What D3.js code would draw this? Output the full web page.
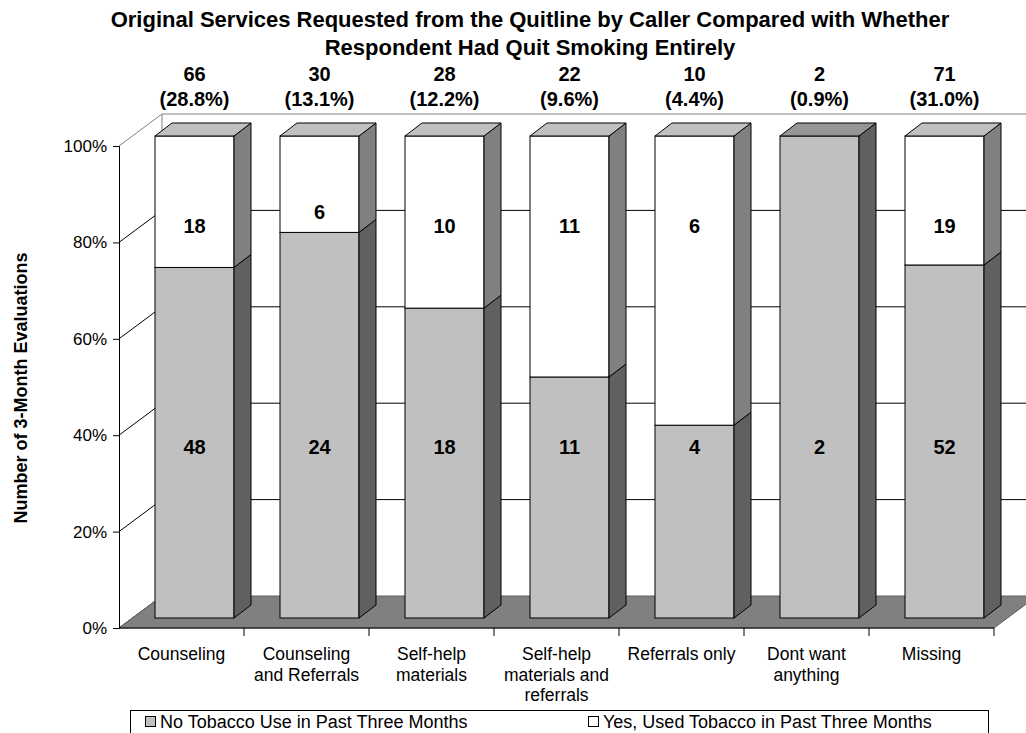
<!DOCTYPE html>
<html>
<head>
<meta charset="utf-8">
<script src="https://cdn.jsdelivr.net/npm/d3@7/dist/d3.min.js"></script>
<style>
  html, body { margin: 0; padding: 0; background: #fff; }
  svg { display: block; font-family: "Liberation Sans", Arial, sans-serif; }
</style>
</head>
<body>
<svg id="chart" width="1026" height="733"></svg>
<script>
// Services requested, split by tobacco use at the 3-month evaluation
const categories = [
  ["Counseling"],
  ["Counseling", "and Referrals"],
  ["Self-help", "materials"],
  ["Self-help", "materials and", "referrals"],
  ["Referrals only"],
  ["Dont want", "anything"],
  ["Missing"]
];
const noTobacco = [48, 24, 18, 11, 4, 2, 52];
const usedTobacco = [18, 6, 10, 11, 6, 0, 19];
const yTickValues = [0, 0.2, 0.4, 0.6, 0.8, 1.0];
const yTickLabels = ["0%", "20%", "40%", "60%", "80%", "100%"];
const seriesNames = ["No Tobacco Use in Past Three Months", "Yes,  Used Tobacco in Past Three Months"];
const titleLines = [
  "Original Services Requested from the Quitline by Caller Compared with Whether",
  "Respondent Had Quit Smoking Entirely"
];
const yAxisTitle = "Number of 3-Month Evaluations";

const svg = d3.select("#chart");

// plot geometry (front plane + receding depth)
const X0 = 119, X1 = 994, YB = 628, YT = 146;
const DX = 43, DY = -32;          // full wall depth
const BDX = 13, BDY = -10;        // bar front face offset into depth
const SDX = 17, SDY = -13;        // bar thickness

const totals = noTobacco.map((v, i) => v + usedTobacco[i]);
const grand = d3.sum(totals);
const keys = categories.map((c, i) => i);

const x = d3.scaleBand().domain(keys).range([X0, X1]).paddingInner(0.368).paddingOuter(0.184);
const y = d3.scaleLinear().domain([0, 1]).range([YB, YT]);

const pts = p => p.map(q => q.join(",")).join(" ");

// back wall gridlines and left wall diagonals
const grid = svg.append("g");
yTickValues.forEach(t => {
  const yy = y(t);
  const col = t === 1 ? "#808080" : "#000";
  if (t > 0) {
    grid.append("line").attr("x1", X0 + DX).attr("x2", X1 + DX)
      .attr("y1", yy + DY).attr("y2", yy + DY).attr("stroke", col).attr("stroke-width", 1);
  }
  grid.append("line").attr("x1", X0).attr("y1", yy).attr("x2", X0 + DX).attr("y2", yy + DY)
    .attr("stroke", col).attr("stroke-width", 1);
});
grid.append("line").attr("x1", X0 + DX).attr("x2", X0 + DX)
  .attr("y1", y(1) + DY).attr("y2", y(0) + DY).attr("stroke", "#808080");

// floor
svg.append("polygon")
  .attr("points", pts([[X0, YB], [X1, YB], [X1 + DX, YB + DY], [X0 + DX, YB + DY]]))
  .attr("fill", "#808080").attr("stroke", "#606060").attr("stroke-width", 1);

// stacked 3D bars
const front = ["#C0C0C0", "#FFFFFF"];
const side = ["#606060", "#808080"];
const topCol = ["#969696", "#C0C0C0"];
const bars = svg.append("g");
const bw = x.bandwidth();
const boldSize = 20;
keys.forEach(i => {
  const segs = [noTobacco[i], usedTobacco[i]];
  let acc = 0;
  const x0 = x(i) + BDX;
  let lastTop = null, lastS = 0;
  segs.forEach((v, s) => {
    if (v <= 0) return;
    const p0 = acc / totals[i], p1 = (acc + v) / totals[i];
    acc += v;
    const yb = y(p0) + BDY, yt = y(p1) + BDY;
    bars.append("rect").attr("x", x0).attr("y", yt).attr("width", bw).attr("height", yb - yt)
      .attr("fill", front[s]).attr("stroke", "#000").attr("stroke-width", 1);
    bars.append("polygon")
      .attr("points", pts([[x0 + bw, yb], [x0 + bw + SDX, yb + SDY], [x0 + bw + SDX, yt + SDY], [x0 + bw, yt]]))
      .attr("fill", side[s]).attr("stroke", "#000").attr("stroke-width", 1);
    lastTop = yt; lastS = s;
  });
  bars.append("polygon")
    .attr("points", pts([[x0, lastTop], [x0 + SDX, lastTop + SDY], [x0 + bw + SDX, lastTop + SDY], [x0 + bw, lastTop]]))
    .attr("fill", topCol[lastS]).attr("stroke", "#000").attr("stroke-width", 1);

  // value labels on the front faces
  const cx = x0 + bw / 2;
  const split = y(noTobacco[i] / totals[i]) + BDY;
  const top = y(1) + BDY;
  bars.append("text").attr("x", cx).attr("y", y(0.355) + BDY).attr("dy", "0.35em")
    .attr("text-anchor", "middle").attr("font-weight", "bold").attr("font-size", boldSize)
    .text(noTobacco[i]);
  if (usedTobacco[i] > 0) {
    const ly = Math.min(y(0.813) + BDY, (top + split) / 2 + 28);
    bars.append("text").attr("x", cx).attr("y", ly).attr("dy", "0.35em")
      .attr("text-anchor", "middle").attr("font-weight", "bold").attr("font-size", boldSize)
      .text(usedTobacco[i]);
  }

  // totals above the chart
  svg.append("text").attr("x", cx).attr("y", 81).attr("text-anchor", "middle")
    .attr("font-weight", "bold").attr("font-size", boldSize).text(totals[i]);
  svg.append("text").attr("x", cx).attr("y", 106).attr("text-anchor", "middle")
    .attr("font-weight", "bold").attr("font-size", boldSize)
    .text("(" + (100 * totals[i] / grand).toFixed(1) + "%)");
});

// y axis
const yAxis = d3.axisLeft(y).tickValues(yTickValues).tickFormat((d, k) => yTickLabels[k])
  .tickSize(6).tickPadding(6);
const gy = svg.append("g").attr("transform", `translate(${X0},0)`).call(yAxis);
gy.select(".domain").attr("stroke", "#000");
gy.selectAll(".tick line").attr("stroke", "#000");
gy.selectAll(".tick text").attr("font-size", 17).attr("fill", "#000")
  .attr("font-family", "Liberation Sans, Arial, sans-serif");

// x axis with ticks at category boundaries
svg.append("line").attr("x1", X0).attr("x2", X1).attr("y1", YB).attr("y2", YB).attr("stroke", "#000");
const step = x.step();
d3.range(1, categories.length + 1).forEach(k => {
  const xx = X0 + step * k;
  svg.append("line").attr("x1", xx).attr("x2", xx).attr("y1", YB).attr("y2", YB + 8).attr("stroke", "#000");
});
keys.forEach(i => {
  const t = svg.append("text").attr("text-anchor", "middle").attr("font-size", 17.5);
  categories[i].forEach((line, j) => {
    t.append("tspan").attr("x", x(i) + bw / 2).attr("y", 660 + j * 20.5).text(line);
  });
});

// title
titleLines.forEach((line, j) => {
  svg.append("text").attr("x", 530).attr("y", 27 + j * 27.5).attr("text-anchor", "middle")
    .attr("font-weight", "bold").attr("font-size", 22).text(line);
});

// y axis title
svg.append("text").attr("transform", "translate(27,388) rotate(-90)")
  .attr("text-anchor", "middle").attr("font-weight", "bold").attr("font-size", 18)
  .text(yAxisTitle);

// legend
const lg = svg.append("g");
lg.append("rect").attr("x", 130.5).attr("y", 710.5).attr("width", 858).attr("height", 40)
  .attr("fill", "#fff").attr("stroke", "#000");
const legendX = [145, 588];
seriesNames.forEach((name, s) => {
  lg.append("rect").attr("x", legendX[s] + 0.5).attr("y", 716.5).attr("width", 10).attr("height", 10)
    .attr("fill", front[s]).attr("stroke", "#000");
  lg.append("text").attr("x", legendX[s] + 15).attr("y", 728).attr("font-size", 18).text(name);
});
</script>
</body>
</html>
